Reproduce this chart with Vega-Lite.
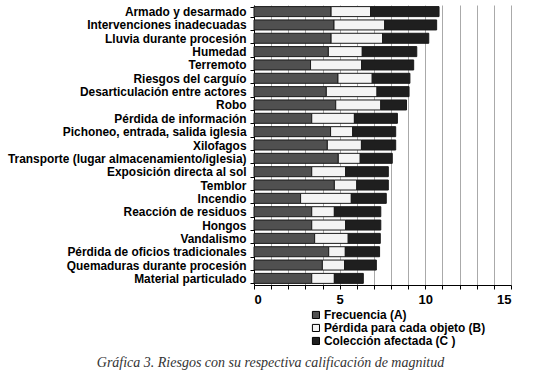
{
  "$schema": "https://vega.github.io/schema/vega-lite/v6.json",
  "width": 257,
  "height": 280,
  "autosize": "none",
  "padding": {"left": 254, "top": 5, "right": 24, "bottom": 93},
  "background": "white",
  "title": {
    "text": "Gráfica 3. Riesgos con su respectiva calificación de magnitud",
    "orient": "bottom",
    "anchor": "middle",
    "font": "Liberation Serif",
    "fontStyle": "italic",
    "fontWeight": "normal",
    "fontSize": 14,
    "color": "#333333",
    "offset": 9,
    "dx": -112
  },
  "config": {
    "view": {"stroke": null},
    "axis": {"labelFont": "Liberation Sans", "labelColor": "black"}
  },
  "data": {
    "values": [
      {"riesgo": "Armado y desarmado", "serie": "Frecuencia (A)", "o": 1, "valor": 4.5},
      {"riesgo": "Armado y desarmado", "serie": "Pérdida para cada objeto (B)", "o": 2, "valor": 2.3},
      {"riesgo": "Armado y desarmado", "serie": "Colección afectada (C )", "o": 3, "valor": 4.0},
      {"riesgo": "Intervenciones inadecuadas", "serie": "Frecuencia (A)", "o": 1, "valor": 4.67},
      {"riesgo": "Intervenciones inadecuadas", "serie": "Pérdida para cada objeto (B)", "o": 2, "valor": 2.96},
      {"riesgo": "Intervenciones inadecuadas", "serie": "Colección afectada (C )", "o": 3, "valor": 3.03},
      {"riesgo": "Lluvia durante procesión", "serie": "Frecuencia (A)", "o": 1, "valor": 4.5},
      {"riesgo": "Lluvia durante procesión", "serie": "Pérdida para cada objeto (B)", "o": 2, "valor": 3.0},
      {"riesgo": "Lluvia durante procesión", "serie": "Colección afectada (C )", "o": 3, "valor": 2.7},
      {"riesgo": "Humedad", "serie": "Frecuencia (A)", "o": 1, "valor": 4.34},
      {"riesgo": "Humedad", "serie": "Pérdida para cada objeto (B)", "o": 2, "valor": 1.98},
      {"riesgo": "Humedad", "serie": "Colección afectada (C )", "o": 3, "valor": 3.18},
      {"riesgo": "Terremoto", "serie": "Frecuencia (A)", "o": 1, "valor": 3.3},
      {"riesgo": "Terremoto", "serie": "Pérdida para cada objeto (B)", "o": 2, "valor": 2.98},
      {"riesgo": "Terremoto", "serie": "Colección afectada (C )", "o": 3, "valor": 3.04},
      {"riesgo": "Riesgos del carguío", "serie": "Frecuencia (A)", "o": 1, "valor": 4.9},
      {"riesgo": "Riesgos del carguío", "serie": "Pérdida para cada objeto (B)", "o": 2, "valor": 2.0},
      {"riesgo": "Riesgos del carguío", "serie": "Colección afectada (C )", "o": 3, "valor": 2.2},
      {"riesgo": "Desarticulación entre actores", "serie": "Frecuencia (A)", "o": 1, "valor": 4.22},
      {"riesgo": "Desarticulación entre actores", "serie": "Pérdida para cada objeto (B)", "o": 2, "valor": 2.96},
      {"riesgo": "Desarticulación entre actores", "serie": "Colección afectada (C )", "o": 3, "valor": 1.87},
      {"riesgo": "Robo", "serie": "Frecuencia (A)", "o": 1, "valor": 4.77},
      {"riesgo": "Robo", "serie": "Pérdida para cada objeto (B)", "o": 2, "valor": 2.63},
      {"riesgo": "Robo", "serie": "Colección afectada (C )", "o": 3, "valor": 1.5},
      {"riesgo": "Pérdida de información", "serie": "Frecuencia (A)", "o": 1, "valor": 3.37},
      {"riesgo": "Pérdida de información", "serie": "Pérdida para cada objeto (B)", "o": 2, "valor": 2.49},
      {"riesgo": "Pérdida de información", "serie": "Colección afectada (C )", "o": 3, "valor": 2.51},
      {"riesgo": "Pichoneo, entrada, salida iglesia", "serie": "Frecuencia (A)", "o": 1, "valor": 4.47},
      {"riesgo": "Pichoneo, entrada, salida iglesia", "serie": "Pérdida para cada objeto (B)", "o": 2, "valor": 1.29},
      {"riesgo": "Pichoneo, entrada, salida iglesia", "serie": "Colección afectada (C )", "o": 3, "valor": 2.51},
      {"riesgo": "Xilofagos", "serie": "Frecuencia (A)", "o": 1, "valor": 4.28},
      {"riesgo": "Xilofagos", "serie": "Pérdida para cada objeto (B)", "o": 2, "valor": 1.99},
      {"riesgo": "Xilofagos", "serie": "Colección afectada (C )", "o": 3, "valor": 2.0},
      {"riesgo": "Transporte (lugar almacenamiento/iglesia)", "serie": "Frecuencia (A)", "o": 1, "valor": 4.92},
      {"riesgo": "Transporte (lugar almacenamiento/iglesia)", "serie": "Pérdida para cada objeto (B)", "o": 2, "valor": 1.28},
      {"riesgo": "Transporte (lugar almacenamiento/iglesia)", "serie": "Colección afectada (C )", "o": 3, "valor": 1.87},
      {"riesgo": "Exposición directa al sol", "serie": "Frecuencia (A)", "o": 1, "valor": 3.37},
      {"riesgo": "Exposición directa al sol", "serie": "Pérdida para cada objeto (B)", "o": 2, "valor": 1.98},
      {"riesgo": "Exposición directa al sol", "serie": "Colección afectada (C )", "o": 3, "valor": 2.49},
      {"riesgo": "Temblor", "serie": "Frecuencia (A)", "o": 1, "valor": 4.69},
      {"riesgo": "Temblor", "serie": "Pérdida para cada objeto (B)", "o": 2, "valor": 1.31},
      {"riesgo": "Temblor", "serie": "Colección afectada (C )", "o": 3, "valor": 1.84},
      {"riesgo": "Incendio", "serie": "Frecuencia (A)", "o": 1, "valor": 2.72},
      {"riesgo": "Incendio", "serie": "Pérdida para cada objeto (B)", "o": 2, "valor": 2.96},
      {"riesgo": "Incendio", "serie": "Colección afectada (C )", "o": 3, "valor": 2.04},
      {"riesgo": "Reacción de residuos", "serie": "Frecuencia (A)", "o": 1, "valor": 3.37},
      {"riesgo": "Reacción de residuos", "serie": "Pérdida para cada objeto (B)", "o": 2, "valor": 1.32},
      {"riesgo": "Reacción de residuos", "serie": "Colección afectada (C )", "o": 3, "valor": 2.71},
      {"riesgo": "Hongos", "serie": "Frecuencia (A)", "o": 1, "valor": 3.37},
      {"riesgo": "Hongos", "serie": "Pérdida para cada objeto (B)", "o": 2, "valor": 1.98},
      {"riesgo": "Hongos", "serie": "Colección afectada (C )", "o": 3, "valor": 2.05},
      {"riesgo": "Vandalismo", "serie": "Frecuencia (A)", "o": 1, "valor": 3.54},
      {"riesgo": "Vandalismo", "serie": "Pérdida para cada objeto (B)", "o": 2, "valor": 1.96},
      {"riesgo": "Vandalismo", "serie": "Colección afectada (C )", "o": 3, "valor": 1.87},
      {"riesgo": "Pérdida de oficios tradicionales", "serie": "Frecuencia (A)", "o": 1, "valor": 4.36},
      {"riesgo": "Pérdida de oficios tradicionales", "serie": "Pérdida para cada objeto (B)", "o": 2, "valor": 0.97},
      {"riesgo": "Pérdida de oficios tradicionales", "serie": "Colección afectada (C )", "o": 3, "valor": 2.0},
      {"riesgo": "Quemaduras durante procesión", "serie": "Frecuencia (A)", "o": 1, "valor": 3.99},
      {"riesgo": "Quemaduras durante procesión", "serie": "Pérdida para cada objeto (B)", "o": 2, "valor": 1.3},
      {"riesgo": "Quemaduras durante procesión", "serie": "Colección afectada (C )", "o": 3, "valor": 1.85},
      {"riesgo": "Material particulado", "serie": "Frecuencia (A)", "o": 1, "valor": 3.37},
      {"riesgo": "Material particulado", "serie": "Pérdida para cada objeto (B)", "o": 2, "valor": 1.32},
      {"riesgo": "Material particulado", "serie": "Colección afectada (C )", "o": 3, "valor": 1.69}
    ]
  },
  "mark": {"type": "bar", "stroke": "#1a1a1a", "strokeWidth": 1},
  "encoding": {
    "y": {
      "field": "riesgo",
      "type": "nominal",
      "sort": null,
      "scale": {"paddingInner": 0.25, "paddingOuter": 0.12},
      "axis": {
        "title": null,
        "labelFontSize": 11.9,
        "labelFontWeight": "bold",
        "labelPadding": 4,
        "labelLimit": 300,
        "tickBand": "extent",
        "tickSize": 4,
        "tickColor": "black",
        "domainColor": "black",
        "grid": false
      }
    },
    "x": {
      "field": "valor",
      "type": "quantitative",
      "stack": "zero",
      "scale": {"domain": [0, 15], "nice": false},
      "axis": {
        "title": null,
        "values": [0,1,2,3,4,5,6,7,8,9,10,11,12,13,14,15],
        "labelExpr": "datum.value % 5 === 0 ? datum.label : ''",
        "labelFontSize": 13,
        "labelFontWeight": "bold",
        "labelPadding": 4,
        "tickSize": 4,
        "tickColor": "black",
        "domainColor": "black",
        "grid": true,
        "gridColor": "#aaaaaa",
        "gridWidth": 1
      }
    },
    "color": {
      "field": "serie",
      "type": "nominal",
      "scale": {
        "domain": ["Frecuencia (A)", "Pérdida para cada objeto (B)", "Colección afectada (C )"],
        "range": ["#505050", "#f4f4f4", "#1f1f1f"]
      },
      "legend": {
        "title": null,
        "orient": "none",
        "legendX": 56,
        "legendY": 304,
        "direction": "vertical",
        "symbolType": "square",
        "symbolSize": 50,
        "symbolStrokeColor": "black",
        "symbolStrokeWidth": 1,
        "labelFont": "Liberation Sans",
        "labelFontSize": 11.9,
        "labelFontWeight": "bold",
        "labelColor": "black",
        "labelOffset": 2,
        "labelLimit": 300,
        "rowPadding": 0
      }
    },
    "order": {"field": "o", "type": "quantitative"}
  }
}
